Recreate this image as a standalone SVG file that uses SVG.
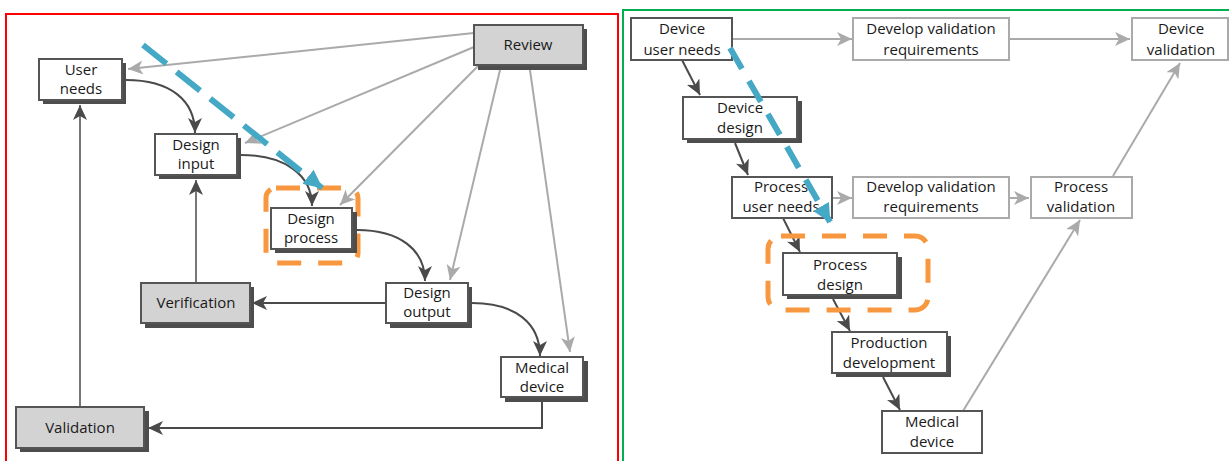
<svg xmlns="http://www.w3.org/2000/svg" width="1229" height="461" viewBox="0 0 1229 461">
<style>
.t{font-family:"Open Sans","Liberation Sans",sans-serif;font-size:15px;fill:#1a1a1a;text-anchor:middle}
.box{fill:#fff;stroke:#555;stroke-width:2}
.gbox{fill:#d3d3d3;stroke:#555;stroke-width:2}
.lbox{fill:#fff;stroke:#aaa;stroke-width:2}
.sh{fill:#4d4d4d}
.dk{fill:none;stroke:#4a4a4a;stroke-width:2;marker-end:url(#ad)}
.md{fill:none;stroke:#777;stroke-width:2;marker-end:url(#ad)}
.lt{fill:none;stroke:#aaa;stroke-width:2;marker-end:url(#al)}
.teal{fill:none;stroke:#45a9c6;stroke-width:6;marker-end:url(#at)}
.or{fill:none;stroke:#f7973f;stroke-width:5;stroke-dasharray:24 17}
</style>
<defs>
<marker id="ad" markerUnits="userSpaceOnUse" markerWidth="16" markerHeight="14" refX="15" refY="7" orient="auto"><path d="M0,0 L15,7 L0,14 L4,7 z" fill="#4a4a4a"/></marker>
<marker id="al" markerUnits="userSpaceOnUse" markerWidth="16" markerHeight="14" refX="15" refY="7" orient="auto"><path d="M0,0 L15,7 L0,14 L4,7 z" fill="#aaa"/></marker>
<marker id="at" markerUnits="userSpaceOnUse" markerWidth="20" markerHeight="18" refX="18" refY="9" orient="auto"><path d="M0,0 L19,9 L0,18 z" fill="#45a9c6"/></marker>
</defs>

<rect x="6" y="14" width="612" height="460" fill="none" stroke="#ff0000" stroke-width="2"/>
<rect x="623" y="10" width="620" height="460" fill="none" stroke="#00b050" stroke-width="2"/>

<g id="connectors">
<path class="lt" d="M474,33 L128,69"/>
<path class="lt" d="M474,47 L245,143"/>
<path class="lt" d="M478,66 L340,205"/>
<path class="lt" d="M500,70 L450,280"/>
<path class="lt" d="M530,70 L570,352"/>
<path class="dk" d="M126,80 C170,80 195,100 195,133"/>
<path class="dk" d="M241,155 C285,155 312,175 312,206"/>
<path class="dk" d="M357,230 C400,230 425,250 425,281"/>
<path class="dk" d="M472,303 C515,303 540,323 540,356"/>
<path class="dk" d="M386,303 L252,303"/>
<path class="md" d="M196,283 L196,180"/>
<path class="md" d="M80,407 L80,105"/>
<path class="dk" d="M542,402 L542,428 L148,428"/>

<path class="lt" d="M732,39 L852,39"/>
<path class="lt" d="M1009,39 L1130,39"/>
<path class="dk" d="M682,60 L700,95"/>
<path class="dk" d="M735,143 L748,175"/>
<path class="lt" d="M832,198 L852,198"/>
<path class="lt" d="M1009,198 L1029,198"/>
<path class="lt" d="M1113,176 L1180,63"/>
<path class="dk" d="M783,218 L800,252"/>
<path class="dk" d="M833,299 L850,331"/>
<path class="dk" d="M883,377 L900,410"/>
<path class="lt" d="M963,411 L1080,220"/>
</g>

<rect class="or" x="266" y="188" width="92" height="75" rx="10"/>
<rect class="or" x="768" y="236" width="160" height="74" rx="13"/>

<g id="user-needs"><rect class="sh" x="43" y="63" width="83" height="41"/><rect class="box" x="39" y="59" width="83" height="41"/><text class="t" x="81" y="75">User</text><text class="t" x="81" y="94">needs</text></g>
<g id="design-input"><rect class="sh" x="159" y="138" width="82" height="41"/><rect class="box" x="155" y="134" width="82" height="41"/><text class="t" x="196" y="150">Design</text><text class="t" x="196" y="169">input</text></g>
<g id="design-process"><rect class="sh" x="275" y="212" width="82" height="41"/><rect class="box" x="271" y="208" width="81" height="41"/><text class="t" x="311" y="224">Design</text><text class="t" x="311" y="243">process</text></g>
<g id="design-output"><rect class="sh" x="390" y="287" width="82" height="41"/><rect class="box" x="386" y="283" width="82" height="40"/><text class="t" x="427" y="298">Design</text><text class="t" x="427" y="317">output</text></g>
<g id="medical-device-left"><rect class="sh" x="505" y="361" width="83" height="41"/><rect class="box" x="501" y="357" width="82" height="40"/><text class="t" x="542" y="373">Medical</text><text class="t" x="542" y="392">device</text></g>
<g id="verification"><rect class="sh" x="145" y="287" width="109" height="41"/><rect class="gbox" x="141" y="283" width="109" height="40"/><text class="t" x="196" y="308">Verification</text></g>
<g id="validation"><rect class="sh" x="20" y="411" width="129" height="41"/><rect class="gbox" x="16" y="407" width="128" height="41"/><text class="t" x="80" y="433">Validation</text></g>
<g id="review"><rect class="sh" x="478" y="29" width="109" height="41"/><rect class="gbox" x="474" y="25" width="109" height="40"/><text class="t" x="528" y="50">Review</text></g>

<g id="device-user-needs"><rect class="box" x="631" y="18" width="101" height="42"/><text class="t" x="682" y="34">Device</text><text class="t" x="682" y="55">user needs</text></g>
<g id="develop-val-req-1"><rect class="lbox" x="853" y="18" width="156" height="42"/><text class="t" x="931" y="34">Develop validation</text><text class="t" x="931" y="55">requirements</text></g>
<g id="device-validation"><rect class="lbox" x="1132" y="18" width="96" height="42"/><text class="t" x="1181" y="34">Device</text><text class="t" x="1181" y="55">validation</text></g>
<g id="device-design"><rect class="sh" x="687" y="101" width="115" height="42"/><rect class="box" x="683" y="97" width="114" height="42"/><text class="t" x="740" y="113">Device</text><text class="t" x="740" y="133">design</text></g>
<g id="process-user-needs"><rect class="box" x="732" y="177" width="100" height="41"/><text class="t" x="781" y="192">Process</text><text class="t" x="781" y="212">user needs</text></g>
<g id="develop-val-req-2"><rect class="lbox" x="853" y="177" width="156" height="41"/><text class="t" x="931" y="192">Develop validation</text><text class="t" x="931" y="212">requirements</text></g>
<g id="process-validation"><rect class="lbox" x="1031" y="177" width="101" height="41"/><text class="t" x="1081" y="192">Process</text><text class="t" x="1081" y="212">validation</text></g>
<g id="process-design"><rect class="sh" x="787" y="257" width="115" height="42"/><rect class="box" x="783" y="253" width="114" height="42"/><text class="t" x="840" y="270">Process</text><text class="t" x="840" y="290">design</text></g>
<g id="production-development"><rect class="sh" x="836" y="336" width="115" height="41"/><rect class="box" x="832" y="332" width="115" height="41"/><text class="t" x="889" y="348">Production</text><text class="t" x="889" y="368">development</text></g>
<g id="medical-device-right"><rect class="box" x="882" y="411" width="100" height="42"/><text class="t" x="932" y="427">Medical</text><text class="t" x="932" y="447">device</text></g>

<g id="highlight-arrows">
<path class="teal" d="M143,45 L322,188" stroke-dasharray="30 13"/>
<path class="teal" d="M730,48 L830,222" stroke-dasharray="24 14"/>
</g>
</svg>
